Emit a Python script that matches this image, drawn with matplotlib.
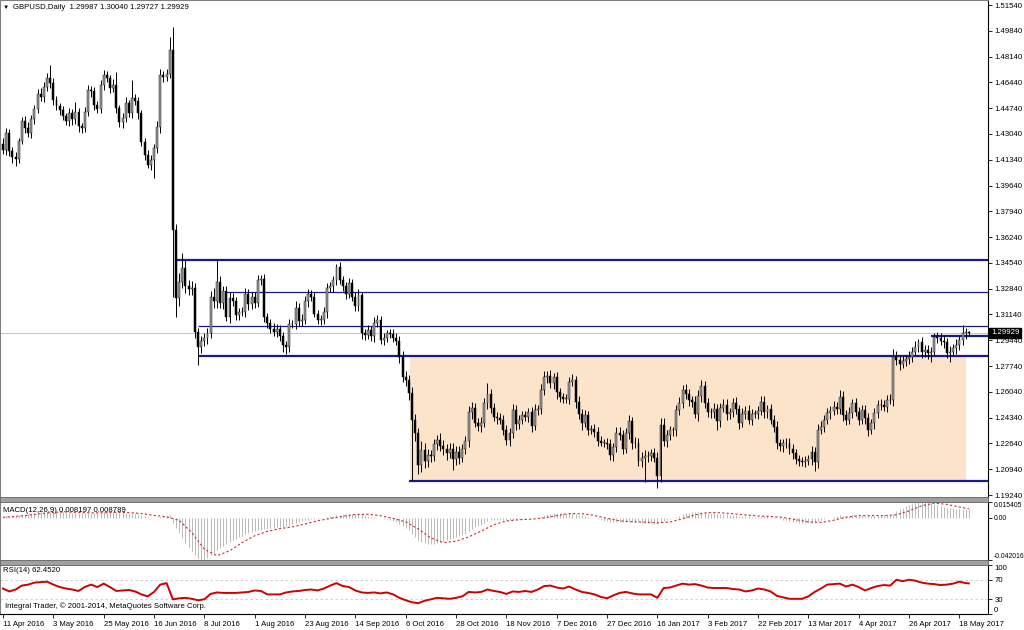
import numpy as np
import matplotlib.pyplot as plt
from matplotlib.patches import Rectangle
import matplotlib.transforms as mtransforms

plt.rcParams['font.family'] = ['Liberation Sans', 'DejaVu Sans']

# =====================================================
# DATA (GBPUSD daily)
# =====================================================

date_labels = [
    "11 Apr 2016", "3 May 2016", "25 May 2016", "16 Jun 2016", "8 Jul 2016",
    "1 Aug 2016", "23 Aug 2016", "14 Sep 2016", "6 Oct 2016", "28 Oct 2016",
    "18 Nov 2016", "7 Dec 2016", "27 Dec 2016", "16 Jan 2017", "3 Feb 2017",
    "22 Feb 2017", "13 Mar 2017", "4 Apr 2017", "26 Apr 2017", "18 May 2017",
]

first_open = 1.4240

close = [
    1.4200, 1.4310, 1.4190, 1.4150, 1.4140, 1.4260, 1.4390, 1.4340, 1.4310, 1.4400, 1.4470, 1.4570, 1.4550, 1.4615, 1.4670, 1.4640,
    1.4528, 1.4490, 1.4460, 1.4420, 1.4390, 1.4440, 1.4400, 1.4450, 1.4355, 1.4340, 1.4450, 1.4594, 1.4585, 1.4495, 1.4470, 1.4627,
    1.4692, 1.4670, 1.4605, 1.4630, 1.4473, 1.4385, 1.4410, 1.4506, 1.4440, 1.4539, 1.4520, 1.4440, 1.4253, 1.4165, 1.4099, 1.4130,
    1.4209, 1.4352, 1.4692, 1.4680, 1.4700, 1.4857, 1.3671, 1.3220, 1.3330, 1.3420, 1.3300, 1.3280, 1.3290, 1.3000, 1.2900, 1.2940,
    1.2960, 1.2990, 1.3231, 1.3200, 1.3330, 1.3190, 1.3270, 1.3100, 1.3220, 1.3200, 1.3110, 1.3130, 1.3130, 1.3250, 1.3180, 1.3230,
    1.3190, 1.3340, 1.3350, 1.3100, 1.3055, 1.3020, 1.3000, 1.3020, 1.2970, 1.2910, 1.2900, 1.3050, 1.3050, 1.3160, 1.3070, 1.3080,
    1.3200, 1.3250, 1.3230, 1.3120, 1.3080, 1.3080, 1.3130, 1.3290, 1.3300, 1.3340, 1.3429, 1.3340, 1.3300, 1.3250, 1.3320, 1.3230,
    1.3170, 1.3240, 1.2990, 1.2980, 1.3010, 1.2970, 1.3060, 1.3080, 1.2946, 1.2960, 1.2990, 1.2985, 1.2960, 1.2940, 1.2836, 1.2704,
    1.2680, 1.2594, 1.2418, 1.2330, 1.2120, 1.2220, 1.2150, 1.2190, 1.2180, 1.2260, 1.2290, 1.2250, 1.2230, 1.2200, 1.2230, 1.2160,
    1.2210, 1.2170, 1.2230, 1.2280, 1.2470, 1.2500, 1.2400, 1.2380, 1.2400, 1.2530, 1.2590, 1.2500, 1.2440, 1.2430, 1.2420, 1.2353,
    1.2290, 1.2330, 1.2484, 1.2390, 1.2420, 1.2450, 1.2440, 1.2470, 1.2380, 1.2484, 1.2490, 1.2616, 1.2704, 1.2710, 1.2660, 1.2700,
    1.2600, 1.2570, 1.2560, 1.2560, 1.2670, 1.2680, 1.2540, 1.2460, 1.2400, 1.2450, 1.2353, 1.2360, 1.2340, 1.2280, 1.2270, 1.2270,
    1.2260, 1.2190, 1.2240, 1.2330, 1.2320, 1.2230, 1.2330, 1.2410, 1.2265, 1.2270, 1.2150, 1.2170, 1.2180, 1.2180, 1.2200, 1.2170,
    1.2050, 1.2385, 1.2280, 1.2320, 1.2350, 1.2350, 1.2484, 1.2530, 1.2616, 1.2590, 1.2550, 1.2540, 1.2460, 1.2580, 1.2640, 1.2530,
    1.2470, 1.2470, 1.2490, 1.2410, 1.2500, 1.2520, 1.2460, 1.2470, 1.2530, 1.2490, 1.2400, 1.2460, 1.2480, 1.2420, 1.2460, 1.2460,
    1.2480, 1.2540, 1.2470, 1.2490, 1.2420, 1.2375, 1.2265, 1.2245, 1.2270, 1.2265, 1.2230, 1.2200, 1.2160, 1.2150, 1.2145, 1.2150,
    1.2160, 1.2210, 1.2140, 1.2353, 1.2375, 1.2419, 1.2463, 1.2480, 1.2507, 1.2490, 1.2573, 1.2452, 1.2420, 1.2466, 1.2529, 1.2474,
    1.2419, 1.2485, 1.2430, 1.2353, 1.2397, 1.2463, 1.2518, 1.2519, 1.2505, 1.2551, 1.2551, 1.2836, 1.2814, 1.2790, 1.2810, 1.2820,
    1.2836, 1.2870, 1.2902, 1.2935, 1.2870, 1.2880, 1.2858, 1.2870, 1.2968, 1.2960, 1.2940, 1.2930, 1.2860, 1.2870, 1.2890, 1.2915,
    1.2945, 1.2990, 1.29987, 1.29929,
]

# upper / lower shadow lengths in pips
wick_up = [
    40, 30, 25, 30, 35, 20, 25, 30, 40, 30, 25, 30, 35, 30, 35, 90,
    30, 25, 20, 30, 25, 35, 30, 67, 25, 20, 30, 35, 25, 30, 25, 30,
    34, 30, 25, 35, 84, 25, 30, 40, 25, 120, 30, 25, 20, 25, 30, 35,
    30, 35, 40, 30, 35, 88, 154, 40, 60, 97, 50, 40, 45, 30, 25, 30,
    30, 35, 40, 60, 150, 40, 35, 30, 40, 35, 30, 30, 35, 40, 30, 35,
    30, 35, 25, 30, 25, 30, 35, 30, 25, 30, 30, 35, 30, 40, 30, 35,
    35, 30, 25, 30, 25, 30, 35, 30, 30, 25, 16, 30, 25, 30, 35, 30,
    30, 40, 25, 30, 35, 30, 40, 30, 25, 30, 25, 30, 35, 30, 30, 35,
    40, 35, 40, 40, 35, 60, 45, 40, 30, 35, 30, 40, 35, 30, 35, 40,
    35, 40, 30, 35, 40, 40, 30, 35, 40, 35, 70, 35, 30, 30, 35, 30,
    30, 35, 40, 35, 30, 30, 25, 30, 35, 40, 30, 40, 35, 30, 35, 30,
    35, 30, 25, 30, 35, 40, 30, 35, 30, 35, 30, 25, 30, 35, 30, 25,
    30, 35, 30, 40, 45, 30, 35, 40, 30, 35, 30, 35, 40, 35, 30, 35,
    40, 50, 45, 35, 30, 25, 35, 40, 33, 40, 35, 30, 40, 35, 43, 35,
    35, 30, 40, 35, 30, 40, 35, 30, 35, 40, 30, 35, 30, 35, 30, 25,
    30, 35, 40, 30, 35, 30, 35, 30, 25, 30, 35, 30, 25, 30, 25, 30,
    30, 35, 30, 40, 35, 30, 35, 30, 35, 30, 40, 35, 30, 35, 30, 35,
    30, 35, 30, 35, 30, 35, 30, 35, 30, 35, 40, 49, 35, 30, 35, 30,
    35, 30, 35, 20, 30, 35, 30, 30, 25, 30, 35, 40, 30, 35, 30, 35,
    30, 55, 25, 5,
]

wick_dn = [
    30, 35, 30, 35, 45, 30, 25, 30, 25, 30, 30, 25, 30, 35, 30, 30,
    30, 25, 30, 25, 30, 35, 40, 30, 35, 30, 25, 30, 35, 30, 25, 25,
    30, 25, 30, 25, 30, 35, 40, 30, 25, 30, 25, 35, 30, 30, 20, 30,
    119, 30, 40, 35, 30, 30, 442, 120, 50, 40, 45, 40, 35, 40, 119, 40,
    35, 40, 30, 45, 40, 35, 40, 30, 45, 30, 35, 30, 25, 30, 35, 30,
    30, 25, 30, 35, 30, 25, 30, 35, 30, 40, 47, 30, 25, 30, 35, 30,
    30, 35, 30, 25, 30, 35, 30, 40, 30, 35, 30, 25, 30, 35, 30, 25,
    35, 30, 40, 35, 30, 30, 35, 30, 25, 35, 30, 25, 30, 30, 40, 35,
    40, 45, 395, 50, 60, 45, 50, 40, 35, 30, 40, 35, 40, 45, 35, 70,
    35, 40, 30, 35, 40, 45, 30, 35, 40, 30, 40, 35, 30, 35, 30, 35,
    35, 40, 30, 35, 30, 25, 30, 35, 40, 30, 35, 30, 35, 40, 30, 40,
    40, 35, 30, 30, 35, 30, 40, 35, 45, 30, 35, 30, 35, 30, 25, 30,
    30, 35, 40, 35, 30, 35, 30, 35, 40, 30, 35, 40, 160, 35, 30, 30,
    80, 40, 35, 40, 30, 35, 40, 30, 35, 30, 40, 35, 30, 45, 40, 35,
    30, 35, 40, 60, 35, 30, 40, 35, 30, 35, 40, 30, 35, 30, 35, 30,
    35, 30, 40, 35, 30, 35, 40, 30, 35, 30, 35, 40, 30, 35, 30, 35,
    30, 35, 60, 35, 30, 35, 30, 35, 30, 35, 30, 40, 35, 30, 35, 30,
    35, 30, 35, 40, 30, 35, 30, 35, 30, 35, 30, 40, 35, 40, 30, 35,
    30, 35, 30, 35, 40, 35, 40, 60, 30, 35, 30, 40, 35, 60, 30, 35,
    35, 30, 40, 20,
]

# MACD main (histogram), units of 0.0001
macd_hist = [
    10, 14, 16, 18, 20, 24, 30, 36, 40, 44, 48, 52, 54, 56, 58, 58,
    56, 55, 54, 52, 50, 49, 48, 47, 45, 43, 43, 46, 48, 47, 47, 50,
    54, 56, 56, 56, 52, 46, 42, 42, 40, 40, 38, 34, 26, 16, 6, -2,
    -6, -4, 6, 12, 18, 28, -55, -100, -150, -200, -250, -290, -330, -370, -400, -420,
    -418, -400, -375, -350, -326, -305, -285, -265, -245, -226, -210, -195, -180, -165, -150, -140,
    -132, -126, -120, -115, -110, -106, -102, -98, -95, -93, -85, -75, -65, -55, -43, -35,
    -28, -22, -17, -13, -10, -5, 0, 6, 12, 18, 24, 28, 32, 35, 38, 40,
    40, 38, 33, 26, 18, 10, 4, -2, -8, -12, -18, -26, -35, -45, -60, -80,
    -100, -125, -160, -190, -220, -240, -255, -262, -265, -262, -255, -245, -235, -225, -215, -205,
    -195, -185, -172, -160, -135, -110, -95, -85, -72, -55, -38, -28, -22, -20, -20, -22,
    -25, -26, -20, -18, -15, -12, -10, -8, -8, -5, 0, 10, 22, 32, 38, 44,
    45, 44, 42, 40, 42, 42, 38, 30, 22, 16, 8, 0, -8, -16, -24, -30,
    -36, -42, -45, -45, -44, -45, -42, -38, -40, -42, -48, -52, -55, -57, -58, -60,
    -65, -45, -30, -20, -10, 0, 10, 20, 32, 42, 48, 52, 52, 54, 56, 54,
    50, 46, 44, 40, 38, 36, 32, 28, 28, 26, 20, 16, 14, 12, 10, 10,
    10, 14, 12, 12, 8, 2, -8, -16, -22, -28, -34, -40, -46, -50, -54, -56,
    -56, -52, -50, -38, -28, -18, -8, 0, 8, 14, 22, 20, 18, 20, 24, 24,
    20, 22, 20, 14, 12, 14, 18, 22, 24, 28, 30, 40, 62, 80, 96, 110,
    122, 134, 144, 150, 154, 152, 148, 142, 134, 126, 116, 106, 98, 94, 90, 88,
    86, 86, 84, 82,
]

# MACD signal, units of 0.0001, at every 4th bar and the last bar
signal_bars = list(range(0, 305, 4)) + [307]
macd_signal = [
    2, 12, 23, 39, 52, 55, 51, 47, 47, 52,
    49, 40, 21, 8, -28, -148, -314, -377, -330, -248,
    -180, -137, -110, -92, -64, -32, -9, 12, 30, 33,
    18, -8, -43, -113, -202, -249, -234, -192, -134, -71,
    -34, -21, -16, -3, 20, 39, 38, 21, -8, -32,
    -42, -45, -53, -44, -12, 27, 49, 48, 38, 26,
    16, 11, 1, -20, -43, -48, -27, 3, 19, 19,
    18, 28, 66, 117, 142, 131, 104, 88,
]

# RSI(14) at every 2nd bar and the last bar
rsi_bars = list(range(0, 307, 2)) + [307]
rsi = [
    52, 46, 50, 58, 60, 64, 65, 66, 60, 55,
    52, 50, 47, 55, 60, 55, 62, 55, 47, 48,
    49, 46, 40, 36, 45, 60, 63, 30, 32, 33,
    31, 28, 30, 41, 44, 43, 43, 43, 44, 45,
    48, 47, 40, 40, 40, 44, 46, 47, 49, 50,
    48, 52, 58, 63, 57, 55, 48, 44, 43, 44,
    42, 44, 40, 33, 28, 24, 22, 27, 30, 33,
    32, 31, 33, 36, 45, 44, 45, 50, 47, 45,
    41, 46, 45, 47, 45, 50, 57, 58, 54, 52,
    56, 50, 45, 43, 40, 35, 32, 38, 43, 45,
    42, 40, 40, 40, 33, 53, 54, 58, 62, 60,
    61, 58, 54, 53, 53, 53, 51, 50, 46, 48,
    52, 50, 46, 37, 34, 31, 31, 31, 36, 45,
    52, 60, 61, 62, 56, 60, 55, 48, 53, 57,
    59, 58, 70, 67, 70, 68, 64, 62, 61, 59,
    60, 62, 66, 63, 62.452,
]

# horizontal lines: (price, first bar, thick)
level_price = [1.3473, 1.3262, 1.3038, 1.2840, 1.2016, 1.2972]
level_start = [55, 71, 62, 62, 129, 295]
level_thick = [True, False, False, True, True, True]

zone_bars = (129.3, 306.0)
zone_price = (1.2016, 1.2838)

last_price = 1.29929

# =====================================================
# FIGURE
# =====================================================

W, H = 1024, 630
FS = 5.6
fig = plt.figure(figsize=(W / 100, H / 100), dpi=100)
fig.patch.set_facecolor("white")


def px_axes(x0, y0, x1, y1):
    return fig.add_axes([x0 / W, 1 - y1 / H, (x1 - x0) / W, (y1 - y0) / H])


n = len(close)
x = np.arange(n)
c = np.array(close)
o = np.r_[first_open, c[:-1]]
hi = np.maximum(o, c) + np.array(wick_up) * 1e-4
lo = np.minimum(o, c) - np.array(wick_dn) * 1e-4

step = 3.146
xlim = (-3 / step, 985 / step)

ax = px_axes(0, 0, 988, 497)
ax_m = px_axes(0, 502, 988, 560)
ax_r = px_axes(0, 565, 988, 614)

for a in (ax, ax_m, ax_r):
    a.set_xlim(*xlim)
    a.set_facecolor("white")
    for s in ("top", "bottom"):
        a.spines[s].set_visible(False)
    a.spines["left"].set_color("#808080")
    a.spines["right"].set_color("black")
    a.spines["right"].set_linewidth(0.8)
    a.yaxis.tick_right()
    a.tick_params(axis="y", direction="out", length=3, width=0.6,
                  labelsize=FS, pad=1.5, colors="black")
    a.tick_params(axis="x", bottom=False, labelbottom=False)

# ---------------- main price panel ----------------
ax.set_ylim(1.1911, 1.5187)
ax.spines["top"].set_visible(True)
ax.spines["top"].set_color("#808080")

ax.add_patch(Rectangle((zone_bars[0], zone_price[0]),
                       zone_bars[1] - zone_bars[0],
                       zone_price[1] - zone_price[0],
                       facecolor="#fce4cb", edgecolor="none", zorder=0))

ax.axhline(last_price, color="#c8c8c8", lw=0.8, zorder=1)

for p, s, thick in zip(level_price, level_start, level_thick):
    ax.hlines(p, s, xlim[1], color="#1a1a8a",
              lw=1.6 if thick else 0.9, zorder=2)

ax.vlines(x, lo, hi, color="black", lw=0.7, zorder=3)
bull = c >= o
body_h = np.maximum(np.abs(c - o), 0.00025)
body_b = np.minimum(o, c)
ax.bar(x[bull], body_h[bull], bottom=body_b[bull], width=0.62,
       color="#9a9a9a", edgecolor="#202020", linewidth=0.35, zorder=4)
ax.bar(x[~bull], body_h[~bull], bottom=body_b[~bull], width=0.62,
       color="black", edgecolor="black", linewidth=0.35, zorder=4)

price_ticks = [1.5154 - 0.017 * k for k in range(20)]
ax.set_yticks(price_ticks)
ax.set_yticklabels([f"{t:.5f}" for t in price_ticks])

trans = mtransforms.blended_transform_factory(ax.transAxes, ax.transData)
ax.text(1.003, last_price, f"{last_price:.5f}", transform=trans,
        fontsize=FS, color="white", va="center", ha="left",
        bbox=dict(boxstyle="square,pad=0.2", fc="black", ec="black"),
        zorder=10, clip_on=False)

ax.text(0.0025, 0.985, "\u25bc", transform=ax.transAxes, fontsize=4.5,
        va="center", ha="left")
ax.text(0.013, 0.985, "GBPUSD,Daily  1.29987 1.30040 1.29727 1.29929",
        transform=ax.transAxes, fontsize=FS, va="center", ha="left")

# ---------------- MACD panel ----------------
mh = np.array(macd_hist) * 1e-4
ax_m.set_ylim(-0.042016, 0.015405)
ax_m.vlines(x, 0, mh, color="#b8b8b8", lw=0.7)
ax_m.plot(signal_bars, np.array(macd_signal) * 1e-4, color="#c03030",
          lw=0.8, dashes=(2, 2))
ax_m.set_yticks([0.015405, 0.0, -0.042016])
ax_m.set_yticklabels(["0.015405", "0.00", "-0.042016"])
ax_m.tick_params(axis="y", labelsize=4.9, pad=1)
ml = ax_m.get_yticklabels()
ml[0].set_va("top")
ml[2].set_va("bottom")
ax_m.text(0.003, 0.86, "MACD(12,26,9) 0.008197 0.008789",
          transform=ax_m.transAxes, fontsize=FS, va="center", ha="left")

# ---------------- RSI panel ----------------
ax_r.set_ylim(0, 100)
for lvl in (70, 30):
    ax_r.axhline(lvl, color="#c8c8c8", lw=0.6, dashes=(3, 3))
ax_r.plot(rsi_bars, rsi, color="#d00000", lw=1.4)
ax_r.set_yticks([100, 70, 30, 0])
ax_r.set_yticklabels(["100", "70", "30", "0"])
rl = ax_r.get_yticklabels()
rl[0].set_va("top")
rl[3].set_va("bottom")
ax_r.text(0.003, 0.88, "RSI(14) 62.4520", transform=ax_r.transAxes,
          fontsize=FS, va="center", ha="left")
ax_r.text(0.005, 0.15, "Integral Trader, \u00a9 2001-2014, MetaQuotes Software Corp.",
          transform=ax_r.transAxes, fontsize=FS, va="center", ha="left")

ax_r.spines["bottom"].set_visible(True)
ax_r.spines["bottom"].set_color("black")
ax_r.spines["bottom"].set_linewidth(0.8)
ax_r.set_xticks([16 * i for i in range(len(date_labels))])
ax_r.set_xticklabels(date_labels)
ax_r.tick_params(axis="x", bottom=True, labelbottom=True, direction="out",
                 length=3, width=0.6, labelsize=FS, pad=2)
for lab in ax_r.get_xticklabels():
    lab.set_ha("left")

# panel separators
for y0, y1 in ((497, 502), (560, 565)):
    fig.add_artist(Rectangle((0, 1 - y1 / H), 988 / W, (y1 - y0) / H,
                             transform=fig.transFigure, facecolor="#a0a0a0",
                             edgecolor="#606060", linewidth=0.6))

fig.savefig("out.png", dpi=100, facecolor="white")
